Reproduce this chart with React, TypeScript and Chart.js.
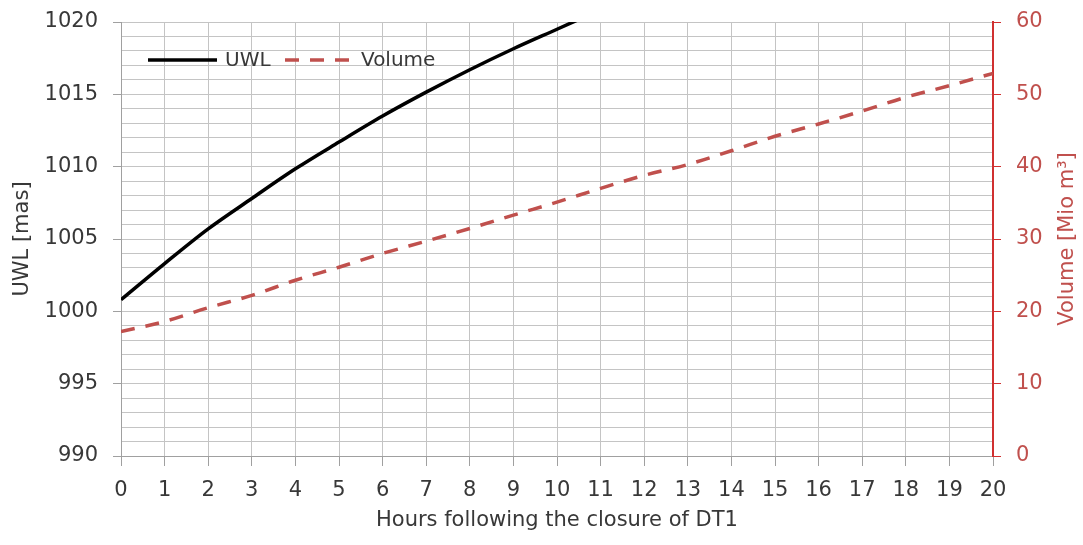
import React, { useEffect, useRef } from 'react';
import { Chart, registerables } from 'chart.js';

Chart.register(...registerables);

// ---- data ----
const hours = [0, 1, 2, 3, 4, 5, 6, 7, 8, 9, 10, 11, 12, 13, 14, 15, 16, 17, 18, 19, 20];
// upstream water level [masl] (leaves the plot at the top after ~10.3 h)
const uwl = [1000.8, 1003.3, 1005.7, 1007.8, 1009.85, 1011.7, 1013.5, 1015.15, 1016.7, 1018.15, 1019.5, 1020.85];
// reservoir volume [Mio m3]
const volume = [17.2, 18.6, 20.5, 22.2, 24.3, 26.1, 28.0, 29.7, 31.45, 33.3, 35.1, 37.0, 38.8, 40.3, 42.2, 44.2, 45.9, 47.7, 49.6, 51.2, 52.9];
const seriesNames = ['UWL', 'Volume'];
const xTitle = 'Hours following the closure of DT1';
const yLeftTitle = 'UWL [mas]';
const yRightTitle = 'Volume [Mio m³]';

const FONT = 'DejaVu Sans';
const TEXT = '#383838';
const GRID = '#c4c4c4';
const AXIS = '#a0a0a0';
const RED = '#c0504d';
const RED_AXIS = '#d03030';
const DASH = [14, 11];

const insideLegend = {
  id: 'insideLegend',
  afterDatasetsDraw(chart: any) {
    const { ctx, chartArea } = chart;
    const y = chartArea.top + 38;
    const x0 = chartArea.left + 27;
    ctx.save();
    ctx.font = `20px "${FONT}"`;
    ctx.textBaseline = 'middle';
    ctx.textAlign = 'left';
    // UWL
    ctx.lineWidth = 3.5;
    ctx.strokeStyle = '#000000';
    ctx.setLineDash([]);
    ctx.beginPath();
    ctx.moveTo(x0, y);
    ctx.lineTo(x0 + 69, y);
    ctx.stroke();
    ctx.fillStyle = TEXT;
    ctx.fillText(seriesNames[0], x0 + 77, y + 1);
    // Volume
    const x1 = x0 + 137;
    ctx.strokeStyle = RED;
    ctx.setLineDash(DASH);
    ctx.beginPath();
    ctx.moveTo(x1, y);
    ctx.lineTo(x1 + 67, y);
    ctx.stroke();
    ctx.setLineDash([]);
    ctx.fillText(seriesNames[1], x1 + 76, y + 1);
    ctx.restore();
  },
};

const rightTitle = {
  id: 'rightTitle',
  afterDraw(chart: any) {
    const { ctx, chartArea } = chart;
    ctx.save();
    ctx.translate(chart.width - 15, (chartArea.top + chartArea.bottom) / 2);
    ctx.rotate(-Math.PI / 2);
    ctx.font = `21px "${FONT}"`;
    ctx.fillStyle = RED;
    ctx.textAlign = 'center';
    ctx.textBaseline = 'middle';
    ctx.fillText(yRightTitle, 0, 0);
    ctx.restore();
  },
};

const fixVertical = (w: number) => (s: any) => {
  s.width = w;
  s.paddingTop = 0;
  s.paddingBottom = 0;
};

export default function App() {
  const ref = useRef<HTMLCanvasElement | null>(null);

  useEffect(() => {
    if (!ref.current) return;
    const chart = new Chart(ref.current, {
      type: 'line',
      data: {
        datasets: [
          {
            label: seriesNames[0],
            data: uwl.map((v, i) => ({ x: hours[i], y: v })),
            borderColor: '#000000',
            borderWidth: 3.5,
            pointRadius: 0,
            cubicInterpolationMode: 'monotone',
            yAxisID: 'y',
            clip: 0,
          },
          {
            label: seriesNames[1],
            data: volume.map((v, i) => ({ x: hours[i], y: v })),
            borderColor: RED,
            borderWidth: 3.5,
            borderDash: DASH,
            pointRadius: 0,
            cubicInterpolationMode: 'monotone',
            yAxisID: 'y1',
            clip: 0,
          },
        ],
      },
      options: {
        responsive: false,
        animation: false,
        layout: { padding: { top: 22, left: 0, right: 0, bottom: 0 } },
        plugins: { legend: { display: false }, tooltip: { enabled: false } },
        scales: {
          x: {
            type: 'linear',
            min: 0,
            max: 20,
            afterFit: (s: any) => { s.height = 89; s.paddingLeft = 0; s.paddingRight = 0; },
            ticks: { stepSize: 1, color: TEXT, font: { family: FONT, size: 21 }, padding: 12, autoSkip: false, maxRotation: 0 },
            grid: { color: GRID, tickColor: AXIS, tickLength: 10, lineWidth: 1 },
            border: { color: AXIS, width: 1 },
            title: { display: true, text: xTitle, color: TEXT, font: { family: FONT, size: 21 }, padding: { top: 0, bottom: 12 } },
          },
          y: {
            type: 'linear',
            position: 'left',
            min: 990,
            max: 1020,
            afterFit: fixVertical(121),
            ticks: {
              stepSize: 1,
              autoSkip: false,
              color: TEXT,
              font: { family: FONT, size: 21 },
              padding: 15,
              callback: (v: any) => (Number(v) % 5 === 0 ? String(v) : ''),
            },
            grid: {
              color: GRID,
              lineWidth: 1,
              tickLength: 8,
              tickColor: (c: any) => (c.tick && c.tick.value % 5 === 0 ? AXIS : 'rgba(0,0,0,0)'),
            },
            border: { color: AXIS, width: 1 },
            title: { display: true, text: yLeftTitle, color: TEXT, font: { family: FONT, size: 21 }, padding: { top: 10, bottom: 0 } },
          },
          y1: {
            type: 'linear',
            position: 'right',
            min: 0,
            max: 60,
            afterFit: fixVertical(90),
            ticks: { stepSize: 10, color: RED, font: { family: FONT, size: 21 }, padding: 15 },
            grid: { drawOnChartArea: false, tickColor: RED_AXIS, tickLength: 8 },
            border: { color: RED_AXIS, width: 2 },
          },
        },
      },
      plugins: [insideLegend, rightTitle],
    } as any);
    return () => chart.destroy();
  }, []);

  return (
    <div style={{ position: 'absolute', left: 0, top: 0, width: 1083, height: 545, background: '#ffffff' }}>
      <canvas ref={ref} width={1083} height={545} style={{ display: 'block' }} />
    </div>
  );
}
